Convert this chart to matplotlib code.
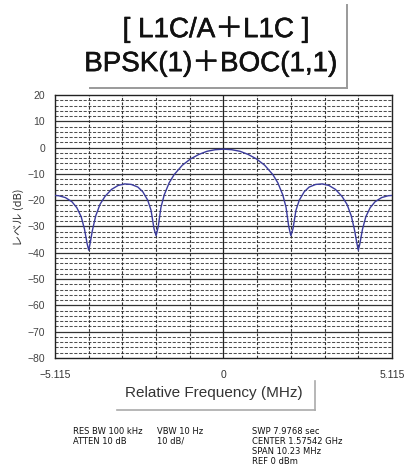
import matplotlib
matplotlib.use("Agg")
import matplotlib.pyplot as plt
from matplotlib.lines import Line2D
import matplotlib.patheffects as pe

# ---- data ----
title_lines = ["[ L1C/A＋L1C ]", "BPSK(1)＋BOC(1,1)"]
x_label = "Relative Frequency (MHz)"
y_label = "レベル (dB)"
x_tick_values = [-5.115, 0.0, 5.115]
x_tick_labels = ["\u22125.115", "0", "5.115"]
y_tick_values = [20, 10, 0, -10, -20, -30, -40, -50, -60, -70, -80]

# right half of the spectrum (MHz, dB); the left half is its mirror
freq_half = [0.0, 0.25, 0.5, 0.75, 1.0, 1.25, 1.5, 1.65, 1.8, 1.9, 1.98, 2.046,
             2.11, 2.2, 2.3, 2.45, 2.6, 2.8, 3.0, 3.2, 3.4, 3.6, 3.75, 3.88,
             3.98, 4.05, 4.092, 4.14, 4.22, 4.32, 4.45, 4.6, 4.8, 5.0, 5.115]
level_half = [-0.6, -0.8, -1.4, -2.6, -4.3, -6.7, -10.3, -13.4, -18.0, -22.8, -30.0, -33.5,
              -30.8, -23.8, -20.0, -16.8, -15.0, -14.0, -13.8, -14.4, -15.9, -18.6, -21.6, -26.0,
              -31.5, -36.5, -39.0, -36.5, -31.0, -26.3, -22.9, -20.6, -19.0, -18.3, -18.2]

freq = [-f for f in freq_half[::-1]] + freq_half[1:]
level = level_half[::-1] + level_half[1:]

annot_col1 = ["RES BW 100 kHz", "ATTEN 10 dB"]
annot_col2 = ["VBW 10 Hz", "10 dB/"]
annot_col3 = ["SWP 7.9768 sec", "CENTER 1.57542 GHz", "SPAN 10.23 MHz", "REF 0 dBm"]

W, H = 408, 472
fig = plt.figure(figsize=(W / 100, H / 100), dpi=100)
fig.patch.set_facecolor("white")

def fx(px):
    return px / W

def fy(py):
    return 1 - py / H

L, R, T, B = 55, 392, 95, 358
ax = fig.add_axes([fx(L), fy(B), (R - L) / W, (B - T) / H])

span = 10.23
xmin, xmax = -5.115, 5.115
ax.set_xlim(xmin, xmax)
ax.set_ylim(-80, 20)

# grid: horizontal
for yv in range(-80, 21, 2):
    if yv % 10 == 0:
        if -80 < yv < 20:
            ax.axhline(yv, color="#333333", lw=0.9, zorder=1)
    else:
        ax.axhline(yv, color="#505050", lw=0.75, ls=(0, (3.0, 1.5)), zorder=1)
# grid: vertical
for k in range(1, 10):
    xv = xmin + k * span / 10
    if k == 5:
        ax.axvline(xv, color="#222222", lw=0.9, zorder=1)
    else:
        ax.axvline(xv, color="#333333", lw=0.8, ls=(0, (2.5, 1.5)), zorder=1)

ax.plot(freq, level, color="#3b3b9e", lw=1.0, zorder=3)

for s in ax.spines.values():
    s.set_color("#222222")
    s.set_linewidth(1.0)

ax.set_xticks(x_tick_values)
ax.set_xticklabels(x_tick_labels, fontsize=7.5, color="#333333",
                   family=["Liberation Sans", "DejaVu Sans"])
ax.set_yticks(y_tick_values)
ax.set_yticklabels(["\u2212" + str(-v) if v < 0 else str(v) for v in y_tick_values],
                   fontsize=7.5, color="#444444", family=["Liberation Sans", "DejaVu Sans"])
ax.tick_params(axis="both", length=0)
ax.tick_params(axis="x", pad=9)
ax.tick_params(axis="y", pad=7)

# y label
fig.text(fx(19), fy(217), y_label, rotation=90, ha="center", va="center",
         fontsize=8, color="#333333", family=["Noto Sans CJK JP", "DejaVu Sans"])

# title
tfam = ["Liberation Sans", "Noto Sans CJK JP", "DejaVu Sans"]
thick = [pe.withStroke(linewidth=0.4, foreground="#111111")]
fig.text(fx(216), fy(30), title_lines[0], ha="center", va="center", fontsize=20,
         color="#111111", family=tfam, path_effects=thick)
fig.text(fx(211), fy(64), title_lines[1], ha="center", va="center", fontsize=20,
         color="#111111", family=tfam, path_effects=thick)
fig.add_artist(Line2D([fx(347), fx(347)], [fy(5), fy(88)], color="#9a9a9a", lw=1.4))
fig.add_artist(Line2D([fx(90), fx(347)], [fy(88), fy(88)], color="#9a9a9a", lw=1.4))

# x label
fig.text(fx(214), fy(393), x_label, ha="center", va="center", fontsize=11,
         color="#333333", family=["Liberation Sans", "DejaVu Sans"])
fig.add_artist(Line2D([fx(315), fx(315)], [fy(381), fy(410)], color="#aaaaaa", lw=1.2))
fig.add_artist(Line2D([fx(117), fx(315)], [fy(410), fy(410)], color="#aaaaaa", lw=1.2))

# annotations
afs = 6.0
afam = ["DejaVu Sans"]
for i, s in enumerate(annot_col1):
    fig.text(fx(73), fy(431 + 10 * i), s, ha="left", va="center", fontsize=afs, family=afam, color="#111111")
for i, s in enumerate(annot_col2):
    fig.text(fx(157), fy(431 + 10 * i), s, ha="left", va="center", fontsize=afs, family=afam, color="#111111")
for i, s in enumerate(annot_col3):
    fig.text(fx(252), fy(431 + 10 * i), s, ha="left", va="center", fontsize=afs, family=afam, color="#111111")

fig.savefig("out.png", dpi=100)
